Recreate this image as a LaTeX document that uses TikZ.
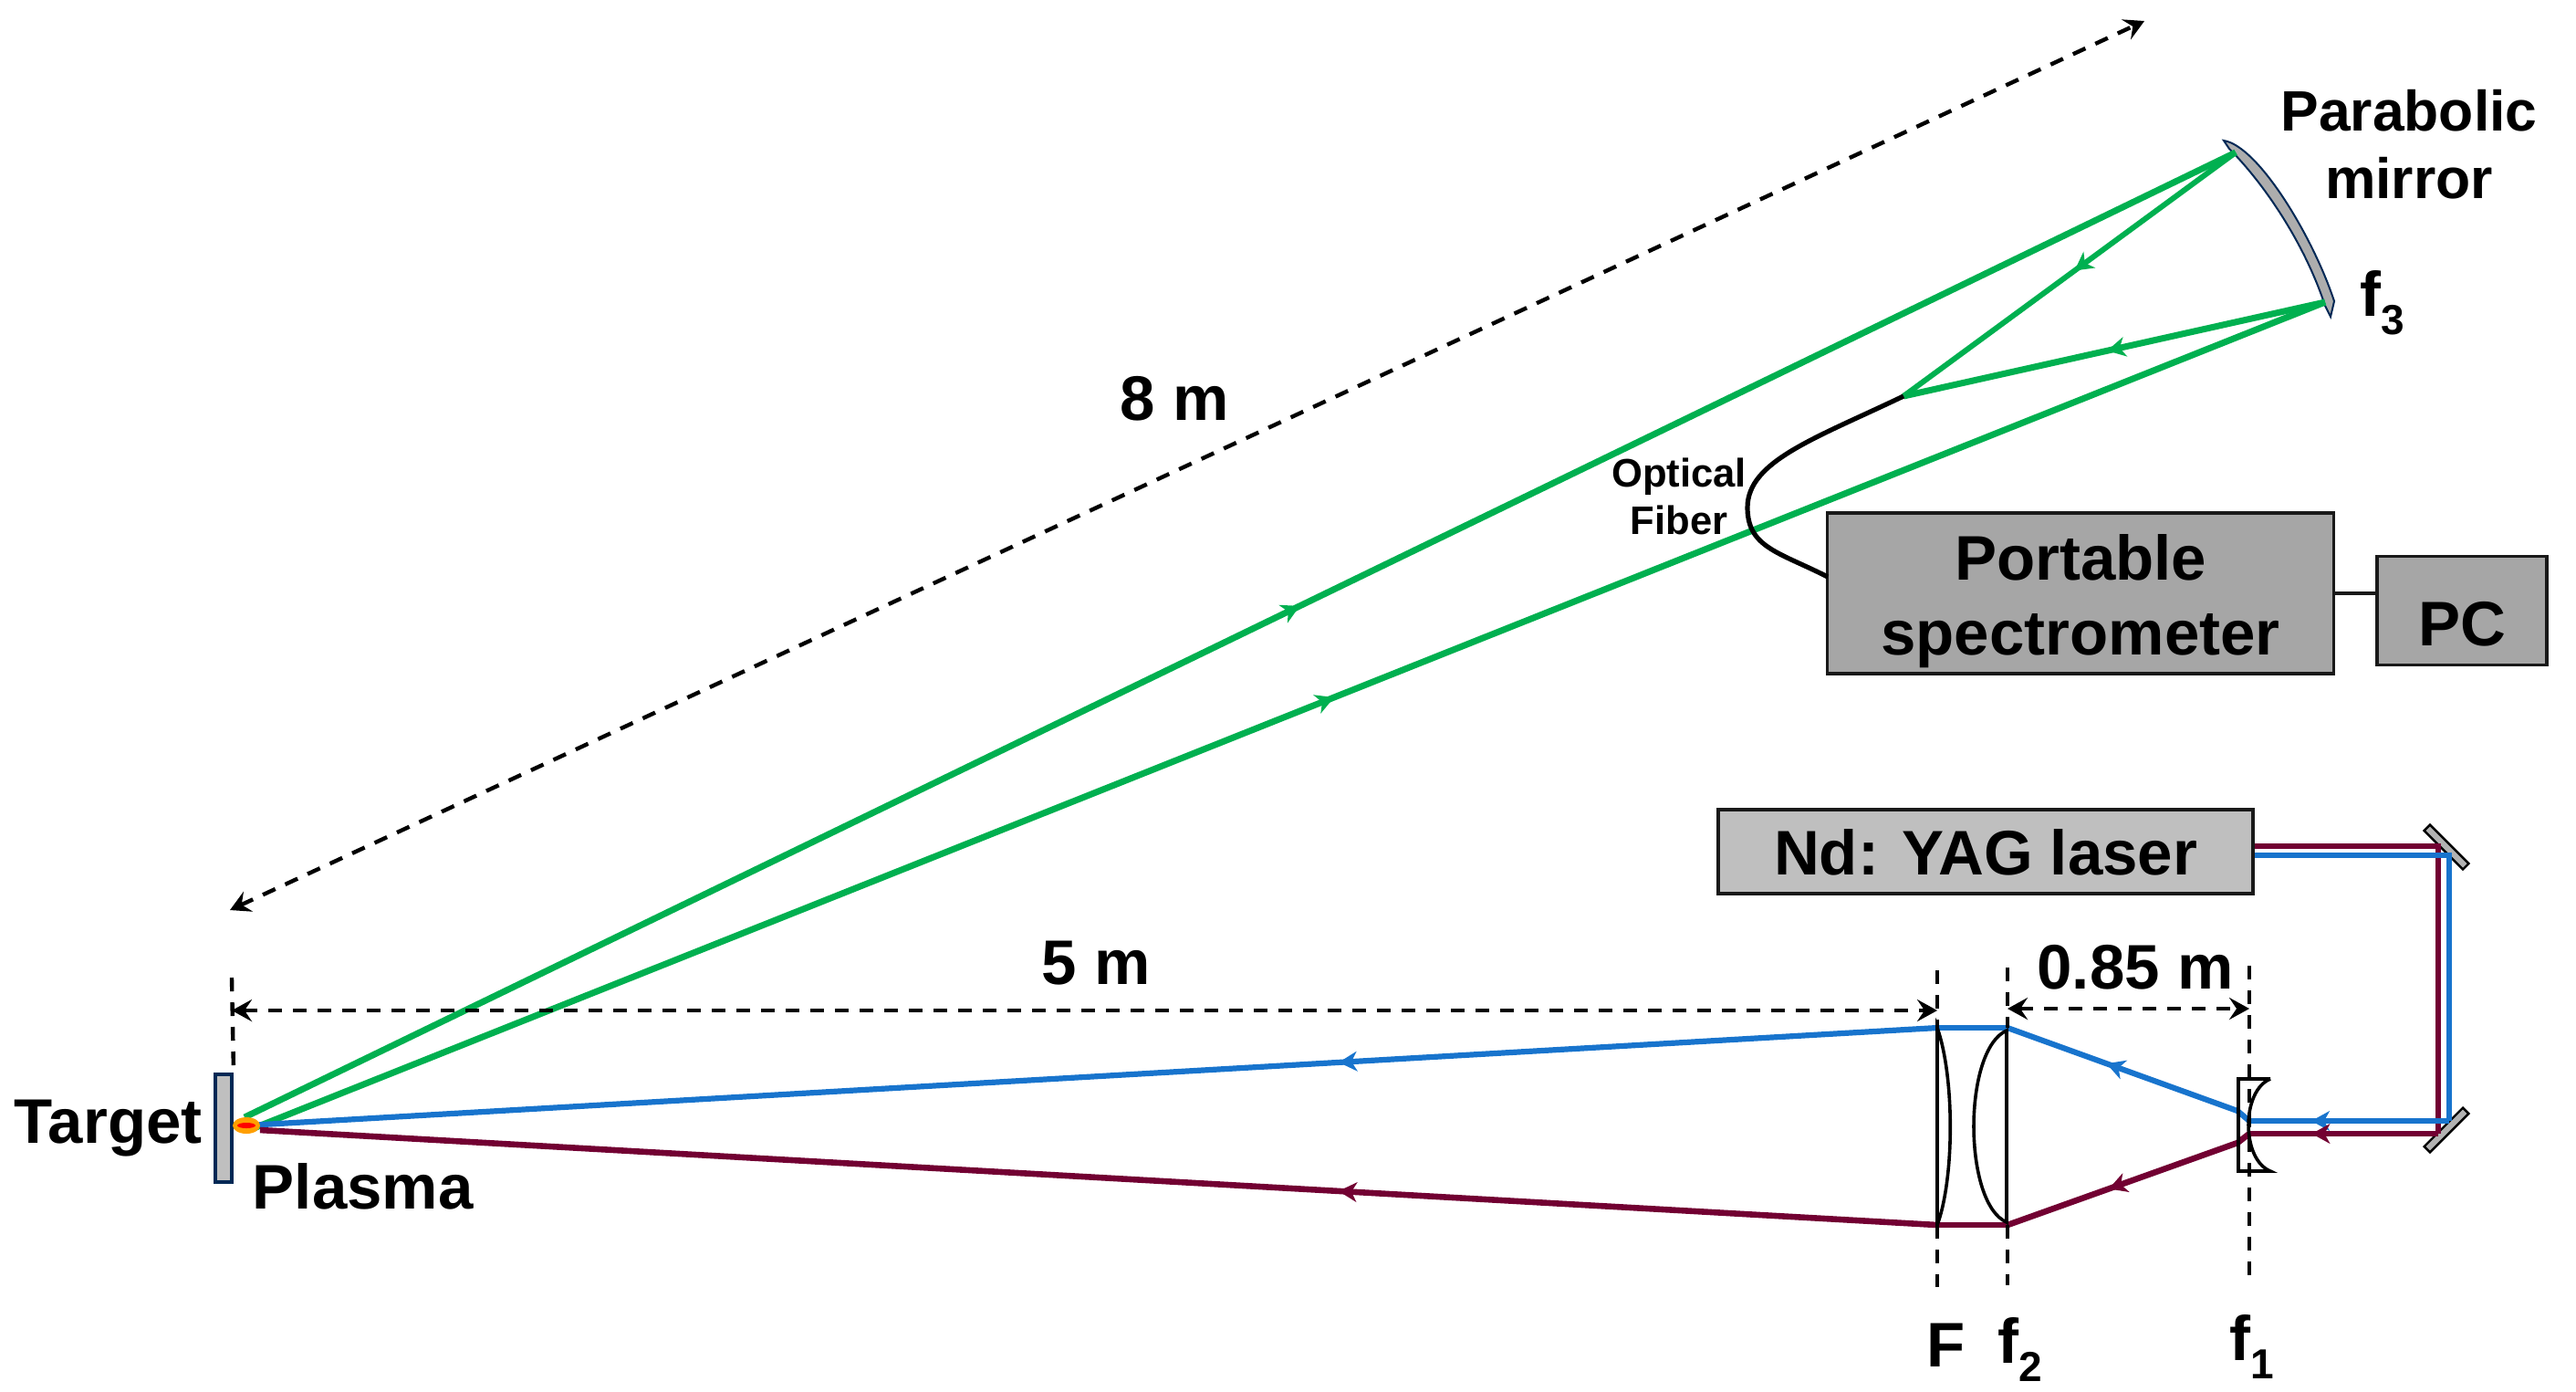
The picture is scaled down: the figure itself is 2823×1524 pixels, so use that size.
\documentclass[tikz,border=0pt]{standalone}
\usepackage{fontspec}
\setmainfont{Liberation Sans}
\usetikzlibrary{arrows.meta,decorations.markings,shapes.geometric}
\definecolor{beamgreen}{HTML}{00B050}
\definecolor{beamblue}{HTML}{1874CD}
\definecolor{beamred}{HTML}{720032}
\definecolor{targetblue}{HTML}{002855}
\newcommand{\lowsub}[1]{\raisebox{-0.3em}{\fontsize{11.5}{13}\selectfont #1}}

\begin{document}
\begin{tikzpicture}[
  x=0.25pt, y=-0.25pt,
  biglabel/.style={font=\fontsize{17.25}{20.5}\bfseries\selectfont, inner sep=0pt, anchor=base},
  unitbox/.style={draw=black!90, line width=0.9pt, inner sep=0pt, align=center,
                  font=\fontsize{17.25}{20.5}\bfseries\selectfont},
  dimline/.style={black, line width=1.1pt, dash pattern=on 3.75pt off 3pt},
  dimarrow/.style={dimline, {Stealth[length=5.5pt,width=6pt,inset=2pt]}-{Stealth[length=5.5pt,width=6pt,inset=2pt]}},
  lens/.style={draw=black, line width=0.9pt},
  flatmirror/.style={draw=black, line width=0.6pt, fill=black!30, inner sep=0pt,
                     minimum width=15pt, minimum height=2.25pt},
  beamtip/.style={postaction={decorate, decoration={markings,
      mark=at position #1 with {\arrow{Stealth[length=5pt,width=5.4pt,inset=1.5pt]}}}}},
  greenbeam/.style={draw=beamgreen, line width=1.75pt},
  bluebeam/.style={draw=beamblue, line width=1.55pt},
  redbeam/.style={draw=beamred, line width=1.65pt}
]
\useasboundingbox (0,0) rectangle (2823,1524);

% positions along the beams
\coordinate (plasma) at (270,1233);
\coordinate (Ftop) at (2123,1126);
\coordinate (Fbot) at (2123,1342);
\coordinate (ftwotop) at (2200,1126);
\coordinate (ftwobot) at (2200,1342);
\coordinate (fonetop) at (2452,1217);
\coordinate (fonebot) at (2452,1252);
\coordinate (foneblue) at (2465,1228);
\coordinate (fonered) at (2465,1242);
\coordinate (foldAred) at (2672,927);
\coordinate (foldAblue) at (2684,937);
\coordinate (foldBred) at (2672,1242);
\coordinate (foldBblue) at (2684,1228);
\coordinate (parabtop) at (2450,167);
\coordinate (parabbot) at (2548,331);
\coordinate (fibertip) at (2086,434);
\coordinate (fiberin) at (2003,632);

% boxes
\node[unitbox, fill=black!35, minimum width=138.75pt, minimum height=44pt,
      text height=33.5pt, text depth=0pt] (spec) at (2280,650) {Portable\\spectrometer};
\node[unitbox, fill=black!35, minimum width=46.5pt, minimum height=29.75pt,
      text height=19.25pt, text depth=0pt] (pc) at (2698,669) {PC};
\node[unitbox, fill=black!25, minimum width=146.5pt, minimum height=23pt,
      text height=12.5pt, text depth=0pt] (laser) at (2176,933) {Nd: YAG laser};
\draw[line width=0.9pt, black!90] (spec.east) -- (spec.east -| pc.west);

% target, mirrors
\node[draw=targetblue, fill=black!25, line width=0.9pt, inner sep=0pt,
      minimum width=4.6pt, minimum height=29.5pt] (target) at (245,1236) {};
\node[flatmirror, rotate=-45] (foldA) at (2681,928) {};
\node[flatmirror, rotate=45]  (foldB) at (2681,1238) {};
\draw[draw=targetblue, line width=0.5pt, fill=black!32] (2437,154)
  .. controls (2475,160) and (2535,260) .. (2558,330) -- (2554,347) -- (2548,335)
  .. controls (2525,265) and (2480,200) .. (2443,163) -- cycle;

% collected light
\draw[greenbeam, beamtip=0.53] (268,1224) -- (parabtop);
\draw[greenbeam, beamtip=0.5216] (278,1236) -- (parabbot);
\draw[greenbeam, line width=1.5pt, beamtip=0.485] (parabtop) -- (fibertip);
\draw[greenbeam, beamtip=0.517] (parabbot) -- (fibertip);
\draw[black, line width=1.3pt] (fibertip) .. controls (1990,480) and (1915,505) .. (1915,556)
  .. controls (1915,600) and (1950,605) .. (fiberin);

% laser beams
\draw[redbeam] (laser.east |- foldAred) -- (foldAred) -- (foldBred);
\draw[bluebeam] (laser.east |- foldAblue) -- (foldAblue) -- (foldBblue);
\draw[bluebeam, beamtip=0.69] (foldBblue) -- (foneblue);
\draw[redbeam, beamtip=0.67] (foldBred) -- (fonered);
\draw[bluebeam] (foneblue) -- (fonetop);
\draw[redbeam] (fonered) -- (fonebot);
\draw[bluebeam, beamtip=0.57] (fonetop) -- (ftwotop);
\draw[redbeam, beamtip=0.56] (fonebot) -- (ftwobot);
\draw[bluebeam] (ftwotop) -- (Ftop);
\draw[redbeam] (ftwobot) -- (Fbot);
\draw[bluebeam, beamtip=0.354] (Ftop) -- (plasma);
\draw[redbeam, beamtip=0.357] (Fbot) -- (285,1238);

% plasma spot
\node[ellipse, fill=orange!75!yellow, inner sep=0pt, minimum width=7.5pt, minimum height=4.5pt] (spot) at (plasma) {};
\node[ellipse, fill=red, inner sep=0pt, minimum width=5pt, minimum height=1.5pt] (core) at (plasma) {};

% lenses
\draw[lens] (Ftop) .. controls (2142,1180) and (2142,1290) .. (Fbot) -- cycle;
\draw[lens] (2199,1129) .. controls (2151,1150) and (2151,1318) .. (2199,1339) -- cycle;
\draw[lens] (2488,1182) -- (2453,1182) -- (2453,1283) -- (2488,1283)
  .. controls (2456,1270) and (2456,1195) .. (2488,1182);

% distances
\coordinate (Fup) at (2123,1063);
\coordinate (Fdown) at (2123,1410);
\coordinate (ftwoup) at (2200,1060);
\coordinate (ftwodown) at (2200,1408);
\coordinate (foneup) at (2465,1058);
\coordinate (fonedown) at (2465,1405);
\coordinate (targetup) at (254,1071);
\draw[dimline] (targetup) -- (target.north east);
\draw[dimline] (Fup) -- (Ftop);
\draw[dimline] (Fbot) -- (Fdown);
\draw[dimline] (ftwoup) -- (ftwotop);
\draw[dimline] (ftwobot) -- (ftwodown);
\draw[dimline] (foneup) -- (fonedown);
\draw[dimarrow] (254,1107) -- (2123,1107);
\draw[dimarrow] (2200,1105) -- (2465,1105);
\draw[dimarrow] (252,997) -- (2350,23);

% texts
\node[biglabel] (eight) at (1287,460) {8 m};
\node[biglabel] (five) at (1201,1078) {5 m};
\node[biglabel] (gap) at (2340,1083) {0.85 m};
\node[biglabel, anchor=base west] (targettext) at (15,1252) {Target};
\node[biglabel, anchor=base west] (plasmatext) at (276,1324) {Plasma};
\node[biglabel] (Ftext) at (2133,1497) {F};
\node[biglabel] (ftwotext) at (2214,1493) {f\lowsub{2}};
\node[biglabel] (fonetext) at (2468,1490) {f\lowsub{1}};
\node[biglabel, anchor=base west] (fthreetext) at (2586,346) {f\lowsub{3}};
\node[font=\fontsize{15.6}{18.5}\bfseries\selectfont, align=center, inner sep=0pt] (parabtext) at (2640,158) {Parabolic\\mirror};
\node[font=\fontsize{10.9}{13}\bfseries\selectfont, align=center, inner sep=0pt] (fibertext) at (1840,544) {Optical\\Fiber};
\end{tikzpicture}
\end{document}
